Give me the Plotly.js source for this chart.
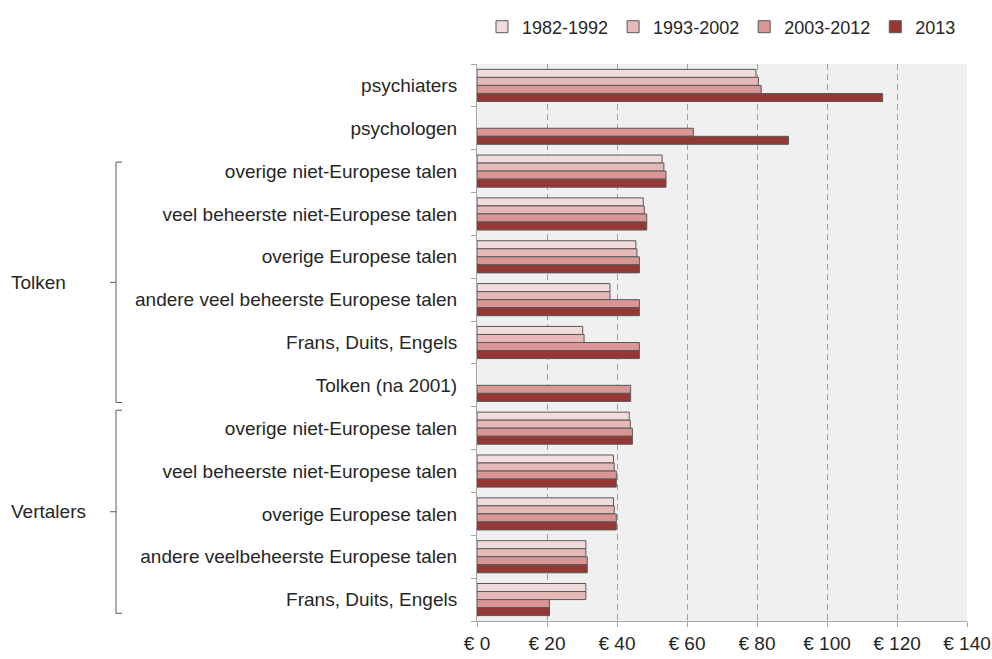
<!DOCTYPE html>
<html>
<head>
<meta charset="utf-8">
<script src="https://cdn.plot.ly/plotly-3.0.1.min.js"></script>
<style>html,body{margin:0;padding:0;background:#fff;}#chart{width:992px;height:659px;}</style>
</head>
<body>
<div id="chart"></div>
<script>
// Category keys (unique) and displayed labels
const categoryKeys = [
  "psychiaters",
  "psychologen",
  "T|overige niet-Europese talen",
  "T|veel beheerste niet-Europese talen",
  "T|overige Europese talen",
  "T|andere veel beheerste Europese talen",
  "T|Frans, Duits, Engels",
  "T|Tolken (na 2001)",
  "V|overige niet-Europese talen",
  "V|veel beheerste niet-Europese talen",
  "V|overige Europese talen",
  "V|andere veelbeheerste Europese talen",
  "V|Frans, Duits, Engels"
];
const categoryLabels = [
  "psychiaters",
  "psychologen",
  "overige niet-Europese talen",
  "veel beheerste niet-Europese talen",
  "overige Europese talen",
  "andere veel beheerste Europese talen",
  "Frans, Duits, Engels",
  "Tolken (na 2001)",
  "overige niet-Europese talen",
  "veel beheerste niet-Europese talen",
  "overige Europese talen",
  "andere veelbeheerste Europese talen",
  "Frans, Duits, Engels"
];
const seriesNames = ["1982-1992", "1993-2002", "2003-2012", "2013"];
const v1982_1992 = [79.7, null, 52.9, 47.5, 45.4, 38.0, 30.2, null, 43.5, 39.0, 39.0, 31.1, 31.1];
const v1993_2002 = [80.4, null, 53.4, 47.8, 45.7, 38.0, 30.6, null, 43.8, 39.2, 39.2, 31.1, 31.1];
const v2003_2012 = [81.2, 61.8, 54.0, 48.5, 46.4, 46.4, 46.4, 43.9, 44.4, 39.8, 39.8, 31.5, 20.7];
const v2013      = [115.9, 89.0, 54.0, 48.5, 46.4, 46.4, 46.4, 43.9, 44.4, 39.8, 39.8, 31.5, 20.7];
const xTicks = [0, 20, 40, 60, 80, 100, 120, 140];
const xTickLabels = ["€ 0", "€ 20", "€ 40", "€ 60", "€ 80", "€ 100", "€ 120", "€ 140"];
const groupNames = ["Tolken", "Vertalers"];

const colors = ["#f2dcdb", "#e6b9b8", "#d99694", "#953735"];
const allValues = [v1982_1992, v1993_2002, v2003_2012, v2013];
const FONT = "'Liberation Sans', Arial, sans-serif";
const FS = 19;
const TXT = "#262626";

const traces = allValues.map((vals, i) => ({
  type: "bar",
  orientation: "h",
  name: seriesNames[i],
  y: categoryKeys,
  x: vals,
  marker: {color: colors[i], line: {color: "#595959", width: 1}},
  hoverinfo: "x+name"
}));

// Bracket positions in category-index coordinates
const groups = [
  {name: groupNames[0], y0: 1.79, y1: 7.40},
  {name: groupNames[1], y0: 7.58, y1: 12.32}
];
const shapes = [];
const annotations = [];
const bx = -0.7367, bxr = -0.7245, bxl = -0.749;
groups.forEach(g => {
  const mid = (g.y0 + g.y1) / 2;
  const line = {color: "#595959", width: 1};
  shapes.push({type: "line", xref: "paper", yref: "y", x0: bx, x1: bx, y0: g.y0, y1: g.y1, line: line});
  shapes.push({type: "line", xref: "paper", yref: "y", x0: bx, x1: bxr, y0: g.y0, y1: g.y0, line: line});
  shapes.push({type: "line", xref: "paper", yref: "y", x0: bx, x1: bxr, y0: g.y1, y1: g.y1, line: line});
  shapes.push({type: "line", xref: "paper", yref: "y", x0: bxl, x1: bx, y0: mid, y1: mid, line: line});
  annotations.push({xref: "paper", yref: "y", x: -0.955, y: mid, xanchor: "left", yanchor: "middle",
    text: g.name, showarrow: false, font: {family: FONT, size: FS, color: TXT}});
});

const layout = {
  width: 992, height: 659,
  margin: {l: 477, r: 25, t: 64, b: 38, autoexpand: false},
  paper_bgcolor: "#ffffff",
  plot_bgcolor: "#f0f0f0",
  barmode: "group",
  bargap: 0.25,
  bargroupgap: 0,
  font: {family: FONT, size: FS, color: TXT},
  showlegend: true,
  legend: {orientation: "h", x: 0.0102, y: 1.0664, xanchor: "left", yanchor: "middle",
    font: {family: FONT, size: 18, color: TXT}, traceorder: "normal", bgcolor: "rgba(0,0,0,0)"},
  xaxis: {
    range: [0, 140], tickmode: "array", tickvals: xTicks, ticktext: xTickLabels,
    showgrid: true, gridcolor: "#a0a0a0", griddash: "6px,4px", gridwidth: 1,
    zeroline: false, showline: true, linecolor: "#a6a6a6", linewidth: 1,
    ticks: "outside", ticklen: 5, tickcolor: "#a6a6a6", fixedrange: true, automargin: false,
    tickfont: {family: FONT, size: FS, color: TXT}
  },
  yaxis: {
    type: "category", categoryorder: "array", categoryarray: categoryKeys,
    tickmode: "array", tickvals: categoryKeys, ticktext: categoryLabels,
    range: [12.5, -0.5], autorange: false, automargin: false,
    showgrid: false, zeroline: false, showline: true, linecolor: "#a6a6a6", linewidth: 1,
    ticks: "outside", ticklen: 5, tickcolor: "#a6a6a6", tickson: "boundaries",
    ticklabelstandoff: 15, fixedrange: true,
    tickfont: {family: FONT, size: FS, color: TXT}
  },
  shapes: shapes,
  annotations: annotations
};

Plotly.newPlot("chart", traces, layout, {displayModeBar: false, staticPlot: true});
</script>
</body>
</html>
